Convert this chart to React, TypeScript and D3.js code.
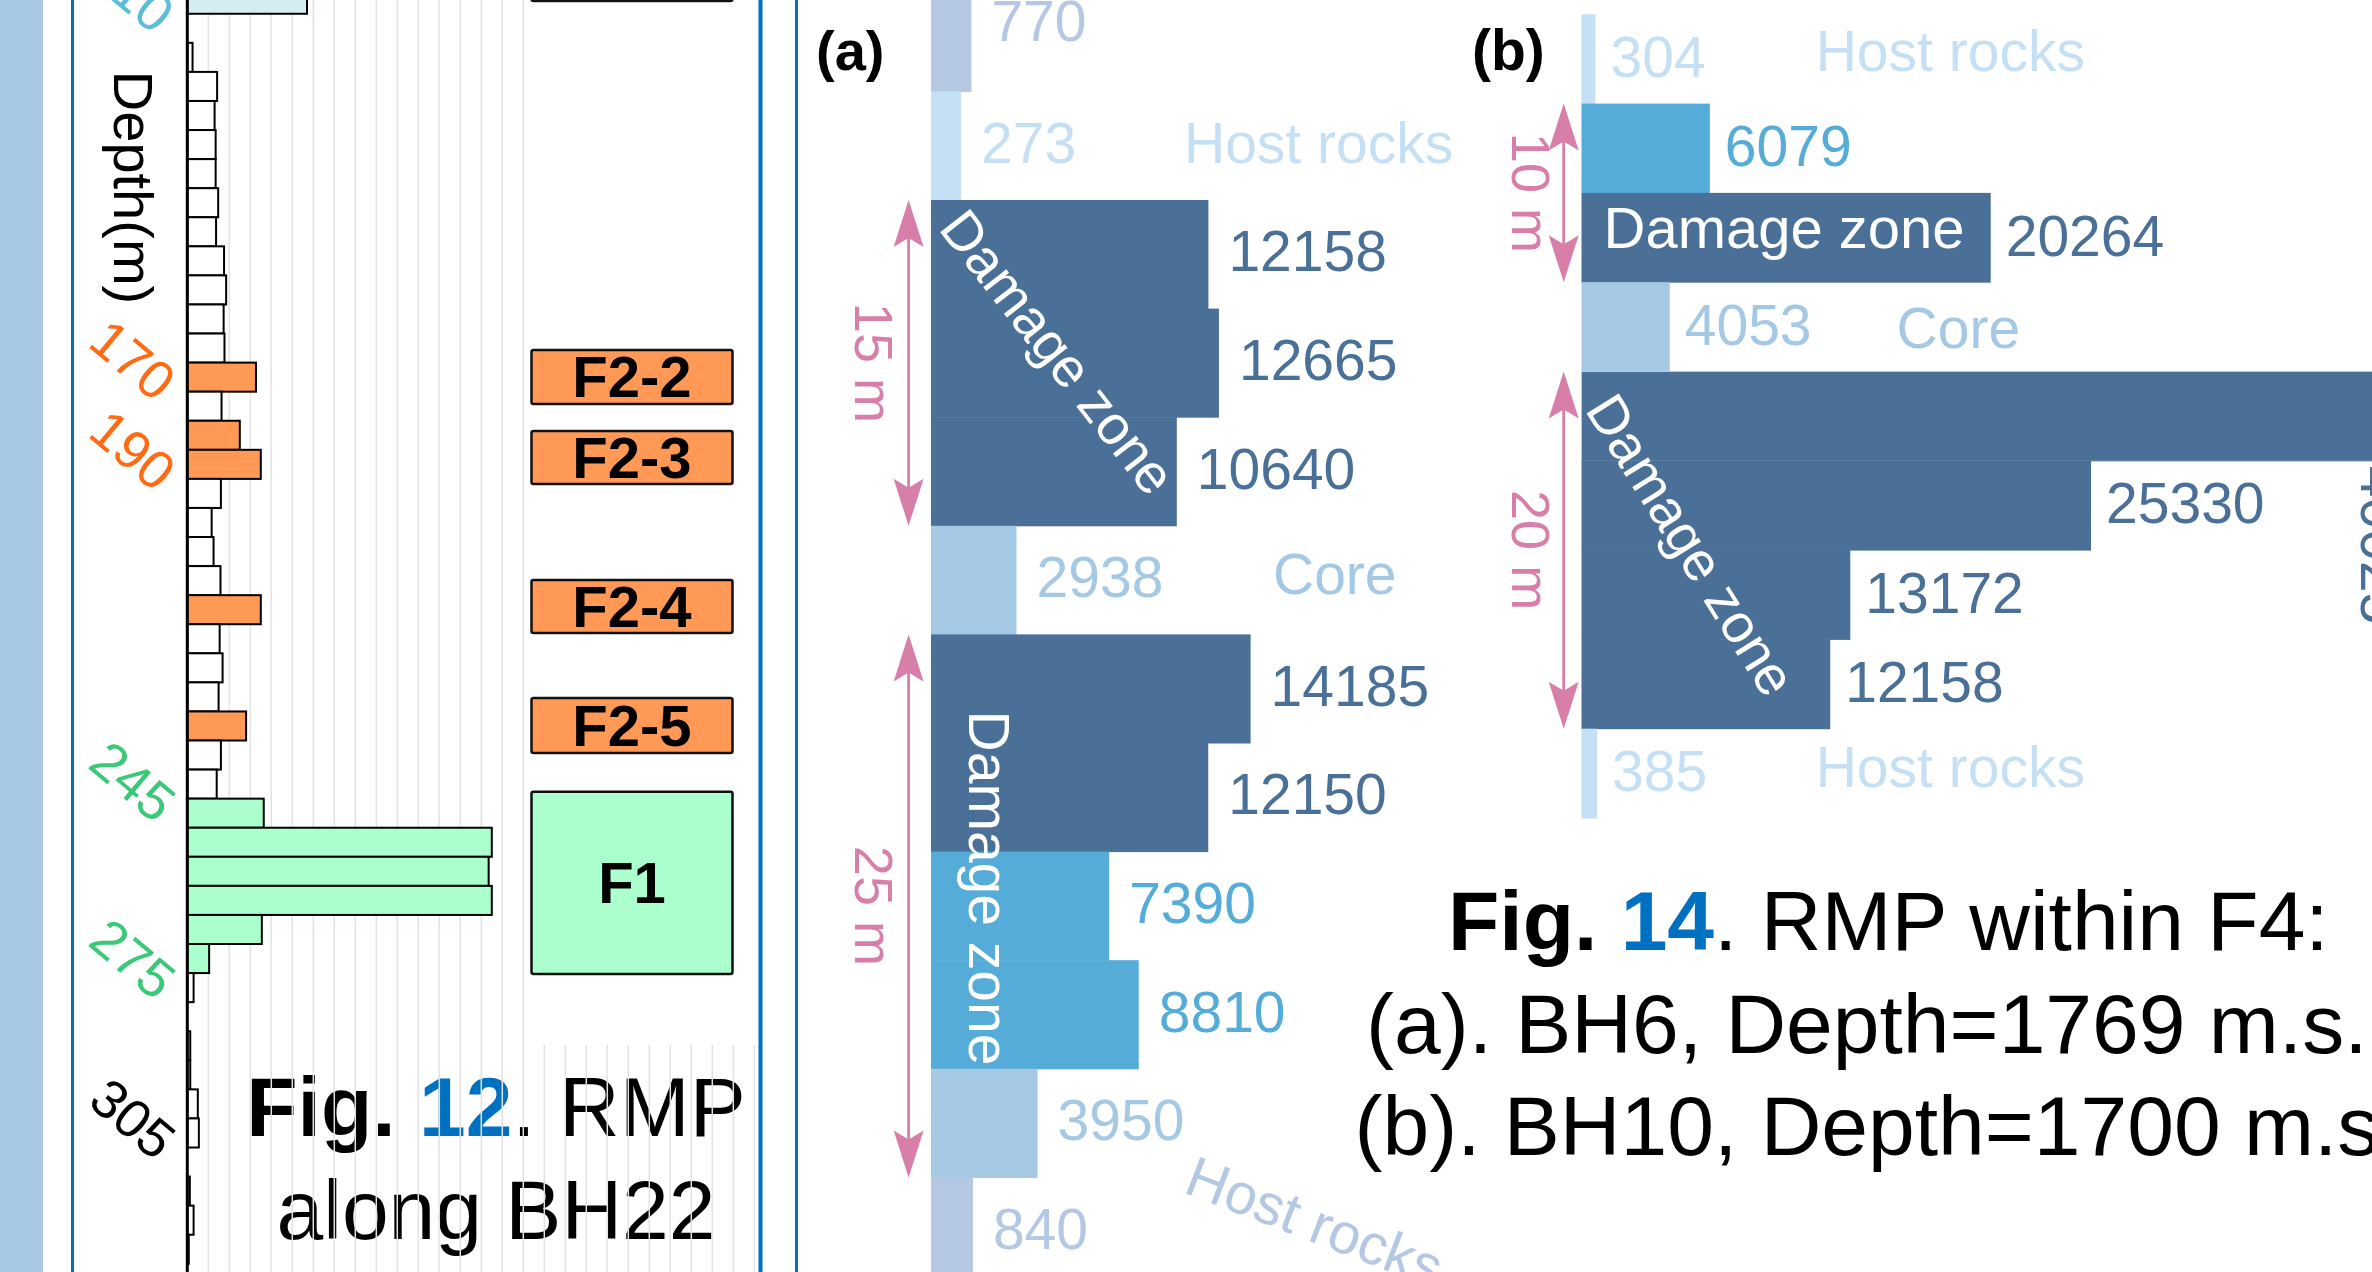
import React from "react";
import * as d3 from "d3";

const W = 2372;
const H = 1272;
const FONT = "'Liberation Sans', Arial, Helvetica, sans-serif";
const BLUE = "#0070c0";
const PINK = "#d87fa9";

// ---- Fig. 12: RMP per depth bin along BH22 (top to bottom) ----
const bh22Values = [
  5.7, 0, 0.25, 1.42, 1.3, 1.35, 1.35, 1.47, 1.37, 1.75, 1.85, 1.73, 1.77, 3.27, 1.63,
  2.5, 3.5, 1.6, 1.16, 1.25, 1.58, 3.5, 1.54, 1.68, 1.49, 2.8, 1.6, 1.4, 3.64, 14.5,
  14.35, 14.5, 3.55, 1.04, 0.3, 0, 0.14, 0.14, 0.5, 0.55, 0, 0.12, 0.3, 0.07,
];
// h = upper fault, w = background, o = F2 faults, g = F1
const bh22Zones = [
  "h",
  "w", "w", "w", "w", "w", "w", "w", "w", "w", "w", "w", "w",
  "o", "w", "o", "o",
  "w", "w", "w", "w",
  "o", "w", "w", "w",
  "o", "w", "w",
  "g", "g", "g", "g", "g", "g",
  "w", "w", "w", "w", "w", "w", "w", "w", "w", "w",
];
const zoneFill: Record<string, string> = { h: "#d5ecf3", w: "#ffffff", o: "#ff9955", g: "#aaffcc" };

const depthLabels = ["110", "170", "190", "245", "275", "305"];
const depthLabelRows = [-0.2, 12.4, 15.5, 26.9, 33.0, 38.5];
const depthLabelColors = ["#5bbdd8", "#ff6a13", "#ff6a13", "#3cc878", "#3cc878", "#000000"];

const faultLabels = ["", "F2-2", "F2-3", "F2-4", "F2-5", "F1"];
const faultRowSpans: [number, number][] = [
  [-3, 0.56], [12.57, 14.42], [15.35, 17.18], [20.48, 22.3], [24.54, 26.43], [27.76, 34.03],
];
const faultFills = ["#ffffff", "#ff9955", "#ff9955", "#ff9955", "#ff9955", "#aaffcc"];

// ---- Fig. 14 (a): BH6 ----
const bh6Values = [770, 273, 12158, 12665, 10640, 2938, 14185, 12150, 7390, 8810, 3950, 840];
const bh6Zones = ["hostA", "host", "dz", "dz", "dz", "core", "dz", "dz", "dzl", "dzl", "core", "hostA"];
const bh6Spans: [number, number, string][] = [[2, 4, "15 m"], [6, 10, "25 m"]];

// ---- Fig. 14 (b): BH10 ----
const bh10Values = [304, 6079, 20264, 4053, 40025, 25330, 13172, 12158, 385];
const bh10Zones = ["host", "dzl", "dz", "core", "dz", "dz", "dz", "dz", "host"];
const bh10Spans: [number, number, string][] = [[1, 2, "10 m"], [4, 7, "20 m"]];

const zoneColor: Record<string, string> = {
  host: "#c5e0f4",
  hostA: "#b4c7e3",
  core: "#a5c8e4",
  dz: "#4a7097",
  dzl: "#55acd8",
};

function arrowHead(x: number, tipY: number, dir: number) {
  // dir = -1 : pointing up, dir = 1 : pointing down
  const p = d3.path();
  p.moveTo(x, tipY);
  p.lineTo(x + 15, tipY - dir * 47);
  p.lineTo(x, tipY - dir * 38);
  p.lineTo(x - 15, tipY - dir * 47);
  p.closePath();
  return p.toString();
}

function SpanArrow({ x, y0, y1, label, lx }: { x: number; y0: number; y1: number; label: string; lx: number }) {
  return (
    <g>
      <line x1={x} x2={x} y1={y0 + 30} y2={y1 - 30} stroke={PINK} strokeWidth={2.8} />
      <path d={arrowHead(x, y0, -1)} fill={PINK} />
      <path d={arrowHead(x, y1, 1)} fill={PINK} />
      <text
        transform={`translate(${lx},${(y0 + y1) / 2}) rotate(90)`}
        textAnchor="middle"
        dominantBaseline="central"
        fontSize={54}
        fill={PINK}
      >
        {label}
      </text>
    </g>
  );
}

export default function App() {
  // Fig. 12 scales
  const rows = d3.scaleBand<number>().domain(d3.range(bh22Values.length)).range([-15.3, -15.3 + 29.07 * 44]).padding(0);
  const rowPos = d3.scaleLinear().domain([0, bh22Values.length]).range([-15.3, -15.3 + 29.07 * 44]);
  const hx = d3.scaleLinear().domain([0, 1]).range([187.3, 208.3]);
  const gridUpper = d3.range(1, 17);
  const gridLower = d3.range(17, 28);

  // Fig. 14 scales
  const axA = 931;
  const rowsA = d3.scaleBand<number>().domain(d3.range(bh6Values.length)).range([-17.2, -17.2 + 108.6 * 12]).padding(0);
  const xA = d3.scaleLinear().domain([0, 14185]).range([axA + 24.4, axA + 24.4 + 0.02081 * 14185]);

  const axB = 1581.5;
  const rowsB = d3.scaleBand<number>().domain(d3.range(bh10Values.length)).range([14.3, 14.3 + 89.3 * 9]).padding(0);
  const xB = d3.scaleLinear().domain([0, 40025]).range([axB + 8, axB + 8 + 0.0198 * 40025]);

  const bigIdx = bh10Values.indexOf(d3.max(bh10Values) as number);

  return (
    <svg
      width={W}
      height={H}
      viewBox={`0 0 ${W} ${H}`}
      style={{ position: "absolute", left: 0, top: 0, display: "block", background: "#fff" }}
      fontFamily={FONT}
    >
      <rect x={0} y={0} width={W} height={H} fill="#ffffff" />

      {/* ---------- Fig. 12 panel ---------- */}
      <rect x={0} y={0} width={43} height={H} fill="#a7c9e4" />
      <line x1={72.5} x2={72.5} y1={0} y2={H} stroke={BLUE} strokeWidth={3} />
      <line x1={760.5} x2={760.5} y1={0} y2={H} stroke={BLUE} strokeWidth={4} />
      <line x1={796.5} x2={796.5} y1={0} y2={H} stroke={BLUE} strokeWidth={3} />

      {/* caption (grid runs over it) */}
      <text x={496} y={1136} textAnchor="middle" fontSize={84} fill="#000">
        <tspan fontWeight="bold">Fig. </tspan>
        <tspan fontWeight="bold" fill={BLUE}>12</tspan>
        <tspan>. RMP</tspan>
      </text>
      <text x={496} y={1238.5} textAnchor="middle" fontSize={84} fill="#000">
        along BH22
      </text>

      {gridUpper.map((k) => (
        <line key={`gu${k}`} x1={hx(k)} x2={hx(k)} y1={0} y2={H} stroke="#e2e2e2" strokeWidth={1.5} />
      ))}
      {gridLower.map((k) => (
        <line key={`gl${k}`} x1={hx(k)} x2={hx(k)} y1={1045} y2={H} stroke="#e2e2e2" strokeWidth={1.5} />
      ))}

      {bh22Values.map((v, i) =>
        v > 0 ? (
          <rect
            key={`b${i}`}
            x={hx(0)}
            y={rows(i)}
            width={hx(v) - hx(0)}
            height={rows.bandwidth()}
            fill={zoneFill[bh22Zones[i]]}
            stroke="#000"
            strokeWidth={2}
          />
        ) : null
      )}
      <line x1={hx(0)} x2={hx(0)} y1={0} y2={H} stroke="#000" strokeWidth={3} />

      {depthLabels.map((t, i) => (
        <text
          key={`d${i}`}
          transform={`translate(133,${rowPos(depthLabelRows[i] + 0.5)}) rotate(40)`}
          textAnchor="middle"
          dominantBaseline="central"
          fontSize={54}
          fill={depthLabelColors[i]}
        >
          {t}
        </text>
      ))}
      <text
        transform="translate(133,187.5) rotate(90)"
        textAnchor="middle"
        dominantBaseline="central"
        fontSize={56}
        fill="#000"
      >
        Depth(m)
      </text>

      {faultLabels.map((t, i) => {
        const y0 = rowPos(faultRowSpans[i][0]);
        const y1 = rowPos(faultRowSpans[i][1]);
        return (
          <g key={`f${i}`}>
            <rect x={531.5} y={y0} width={201} height={y1 - y0} rx={2} fill={faultFills[i]} stroke="#111" strokeWidth={2.5} />
            {t && (
              <text x={632} y={(y0 + y1) / 2} textAnchor="middle" dominantBaseline="central" fontSize={58} fontWeight="bold" fill="#000">
                {t}
              </text>
            )}
          </g>
        );
      })}

      {/* ---------- Fig. 14 (a) BH6 ---------- */}
      <text x={816} y={70} fontSize={56} fontWeight="bold" fill="#000">(a)</text>
      {bh6Values.map((v, i) => (
        <rect key={`a${i}`} x={axA} y={rowsA(i)} width={xA(v) - axA} height={rowsA.bandwidth() + 0.5} fill={zoneColor[bh6Zones[i]]} />
      ))}
      {bh6Values.map((v, i) => (
        <text
          key={`al${i}`}
          x={xA(v) + 20}
          y={(rowsA(i) as number) + rowsA.bandwidth() / 2 + 17 - (i === 0 ? 13 : 0)}
          fontSize={57}
          fill={zoneColor[bh6Zones[i]]}
        >
          {v}
        </text>
      ))}
      <text x={1184} y={163} fontSize={57} fill={zoneColor.host}>Host rocks</text>
      <text x={1273} y={594} fontSize={57} fill={zoneColor.core}>Core</text>
      <text transform="translate(1182,1192) rotate(21)" fontSize={57} fill={zoneColor.hostA}>Host rocks</text>
      <text
        transform="translate(1058,352) rotate(52)"
        textAnchor="middle"
        dominantBaseline="central"
        fontSize={55}
        fill="#fff"
      >
        Damage zone
      </text>
      <text
        transform="translate(989,888) rotate(90)"
        textAnchor="middle"
        dominantBaseline="central"
        fontSize={57}
        fill="#fff"
      >
        Damage zone
      </text>
      {bh6Spans.map(([a, b, t], i) => (
        <SpanArrow
          key={`as${i}`}
          x={908.6}
          y0={rowsA(a) as number}
          y1={(rowsA(b) as number) + rowsA.bandwidth()}
          label={t}
          lx={873.5}
        />
      ))}

      {/* ---------- Fig. 14 (b) BH10 ---------- */}
      <text x={1472} y={70} fontSize={57} fontWeight="bold" fill="#000">(b)</text>
      {bh10Values.map((v, i) => (
        <rect
          key={`b${i}`}
          x={axB}
          y={rowsB(i)}
          width={xB(v) - axB}
          height={rowsB.bandwidth() + 0.5}
          fill={zoneColor[bh10Zones[i]]}
          stroke={i === bigIdx ? "#b9c9da" : "none"}
          strokeWidth={1}
        />
      ))}
      {bh10Values.map((v, i) =>
        i === bigIdx ? (
          <text
            key={`bl${i}`}
            transform={`translate(${xB(v) - 21},${(rowsB(i) as number) + rowsB.bandwidth() + 5}) rotate(90)`}
            fontSize={57}
            fill={zoneColor[bh10Zones[i]]}
          >
            {v}
          </text>
        ) : (
          <text
            key={`bl${i}`}
            x={xB(v) + 15}
            y={(rowsB(i) as number) + rowsB.bandwidth() / 2 + 18}
            fontSize={57}
            fill={zoneColor[bh10Zones[i]]}
          >
            {v}
          </text>
        )
      )}
      <text x={1815.7} y={70.6} fontSize={57} fill={zoneColor.host}>Host rocks</text>
      <text x={1896.6} y={347.8} fontSize={57} fill={zoneColor.core}>Core</text>
      <text x={1815.7} y={787} fontSize={57} fill={zoneColor.host}>Host rocks</text>
      <text x={1603.5} y={248.4} fontSize={58} fill="#fff">Damage zone</text>
      <text
        transform="translate(1691,545) rotate(58)"
        textAnchor="middle"
        dominantBaseline="central"
        fontSize={55}
        fill="#fff"
      >
        Damage zone
      </text>
      {bh10Spans.map(([a, b, t], i) => (
        <SpanArrow
          key={`bs${i}`}
          x={1563.7}
          y0={rowsB(a) as number}
          y1={(rowsB(b) as number) + rowsB.bandwidth()}
          label={t}
          lx={1530.5}
        />
      ))}

      {/* ---------- Fig. 14 caption ---------- */}
      <text x={1448} y={950} fontSize={84} fill="#000">
        <tspan fontWeight="bold">Fig. </tspan>
        <tspan fontWeight="bold" fill={BLUE}>14</tspan>
        <tspan>. RMP within F4:</tspan>
      </text>
      <text x={1366} y={1053} fontSize={84} fill="#000">(a). BH6, Depth=1769 m.s.l.</text>
      <text x={1354.5} y={1155} fontSize={84} fill="#000">(b). BH10, Depth=1700 m.s.l.</text>
    </svg>
  );
}
